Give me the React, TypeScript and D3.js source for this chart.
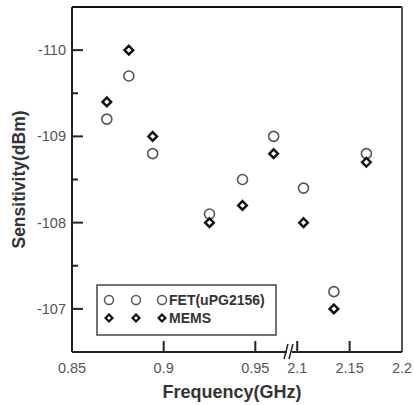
import React, { useEffect } from "react";
import * as d3 from "d3";

// frequencies (GHz)
const freqs = [0.869, 0.881, 0.894, 0.925, 0.943, 0.96, 2.106, 2.135, 2.166];
const fetValues = [-109.2, -109.7, -108.8, -108.1, -108.5, -109.0, -108.4, -107.2, -108.8];
const memsValues = [-109.4, -110.0, -109.0, -108.0, -108.2, -108.8, -108.0, -107.0, -108.7];

const leftTicks = [0.85, 0.9, 0.95];
const rightTicks = [2.1, 2.15, 2.2];
const yTicks = [-110, -109, -108, -107];
const yMinor = [-109.5, -108.5, -107.5];

const W = 414;
const H = 405;
const left = 72;
const top = 7;
const right = 402;
const bottom = 352;
const breakX = 292;
const font = "Arial, 'Liberation Sans', sans-serif";

const xLeft = d3.scaleLinear().domain([0.85, 0.97]).range([left, breakX]);
const xRight = d3.scaleLinear().domain([2.095, 2.2]).range([breakX, right]);
const x = (f: number) => (f < 1.5 ? xLeft(f) : xRight(f));
const y = d3.scaleLinear().domain([-110.5, -106.5]).range([top, bottom]);

const diamond = d3.symbol().type(d3.symbolDiamond2).size(48);
const diamondSmall = d3.symbol().type(d3.symbolDiamond2).size(30);

const App = () => {
  useEffect(() => {
    document.body.style.margin = "0";
  }, []);

  const fmt = (v: number) => String(v);

  return (
    <svg width={W} height={H} style={{ display: "block", background: "#fff" }}>
      {/* frame */}
      <line x1={left} y1={top} x2={right} y2={top} stroke="#111" strokeWidth={2} />
      <line x1={right} y1={top} x2={right} y2={bottom} stroke="#555" strokeWidth={2} />
      <line x1={left} y1={top} x2={left} y2={bottom} stroke="#222" strokeWidth={2} />
      <line x1={left} y1={bottom} x2={right} y2={bottom} stroke="#222" strokeWidth={2} />

      {/* y ticks */}
      {yTicks.map((t) => (
        <g key={t}>
          <line x1={left} x2={left + 11} y1={y(t)} y2={y(t)} stroke="#222" strokeWidth={2} />
          <text x={left - 6} y={y(t) + 5} textAnchor="end" fontFamily={font} fontSize={14.5} fill="#555">
            {fmt(t)}
          </text>
        </g>
      ))}
      {yMinor.map((t) => (
        <line key={t} x1={left} x2={left + 6} y1={y(t)} y2={y(t)} stroke="#222" strokeWidth={2} />
      ))}

      {/* x ticks */}
      {leftTicks.map((t) => (
        <g key={t}>
          {t !== 0.85 && (
            <line x1={xLeft(t)} x2={xLeft(t)} y1={bottom} y2={bottom - 11} stroke="#222" strokeWidth={2} />
          )}
          <text x={xLeft(t)} y={373} textAnchor="middle" fontFamily={font} fontSize={14.5} fill="#555">
            {fmt(t)}
          </text>
        </g>
      ))}
      {rightTicks.map((t) => (
        <g key={t}>
          {t !== 2.2 && (
            <line x1={xRight(t)} x2={xRight(t)} y1={bottom} y2={bottom - 11} stroke="#222" strokeWidth={2} />
          )}
          <text x={xRight(t)} y={373} textAnchor="middle" fontFamily={font} fontSize={14.5} fill="#555">
            {fmt(t)}
          </text>
        </g>
      ))}

      {/* axis break */}
      <rect x={breakX - 5} y={bottom - 3} width={5} height={6} fill="#fff" />
      <line x1={breakX - 8} y1={bottom + 7} x2={breakX - 4} y2={bottom - 8} stroke="#222" strokeWidth={1.5} />
      <line x1={breakX - 3} y1={bottom + 7} x2={breakX + 1} y2={bottom - 8} stroke="#222" strokeWidth={1.5} />

      {/* axis titles */}
      <text
        transform={`translate(25,${(top + bottom) / 2}) rotate(-90)`}
        textAnchor="middle"
        fontFamily={font}
        fontSize={17.5}
        fontWeight="bold"
        fill="#333"
      >
        Sensitivity(dBm)
      </text>
      <text x={232} y={398} textAnchor="middle" fontFamily={font} fontSize={18} fontWeight="bold" fill="#333">
        Frequency(GHz)
      </text>

      {/* FET series */}
      {freqs.map((f, i) => (
        <circle key={"c" + i} cx={x(f)} cy={y(fetValues[i])} r={5} fill="none" stroke="#555" strokeWidth={1.6} />
      ))}
      {/* MEMS series */}
      {freqs.map((f, i) => (
        <path
          key={"d" + i}
          d={diamond() as string}
          transform={`translate(${x(f)},${y(memsValues[i])})`}
          fill="#fff"
          stroke="#111"
          strokeWidth={2.4}
        />
      ))}

      {/* legend */}
      <rect x={97} y={285} width={179} height={50} fill="#fff" stroke="#444" strokeWidth={1.5} />
      {[109, 136, 162].map((lx) => (
        <g key={lx}>
          <circle cx={lx} cy={300} r={4.5} fill="none" stroke="#555" strokeWidth={1.5} />
          <path d={diamondSmall() as string} transform={`translate(${lx},318)`} fill="#fff" stroke="#111" strokeWidth={2.2} />
        </g>
      ))}
      <text x={169} y={305} fontFamily={font} fontSize={14} fontWeight="bold" fill="#333">
        FET(uPG2156)
      </text>
      <text x={169} y={323} fontFamily={font} fontSize={14} fontWeight="bold" fill="#333">
        MEMS
      </text>
    </svg>
  );
};

export default App;
